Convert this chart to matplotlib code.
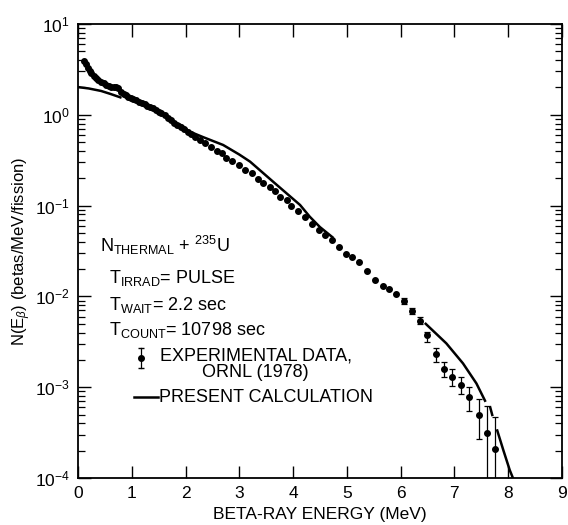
import numpy as np
import matplotlib
matplotlib.use("Agg")
import matplotlib.pyplot as plt
from matplotlib.ticker import LogLocator, FixedLocator

plt.rcParams["font.family"] = ["Liberation Sans", "DejaVu Sans"]
plt.rcParams["mathtext.fontset"] = "custom"
plt.rcParams["mathtext.rm"] = "Liberation Sans"
plt.rcParams["mathtext.it"] = "Liberation Sans:italic"

# experimental data, ORNL (1978)  -- energy (MeV), N (betas/MeV/fission)
exp_e = [0.12, 0.15, 0.19, 0.22, 0.25, 0.29, 0.34, 0.38, 0.43, 0.48,
         0.53, 0.58, 0.62, 0.67, 0.71, 0.75, 0.80, 0.85, 0.89, 0.93,
         0.98, 1.03, 1.08, 1.13, 1.19, 1.24, 1.29, 1.34, 1.39, 1.45,
         1.50, 1.55, 1.61, 1.67, 1.73, 1.79, 1.85, 1.92, 1.98, 2.05,
         2.11, 2.18, 2.26, 2.36, 2.48, 2.58, 2.67, 2.76, 2.86, 3.00,
         3.10, 3.23, 3.35, 3.44, 3.57, 3.66, 3.75, 3.88, 3.97, 4.10,
         4.22, 4.36, 4.49, 4.59, 4.72, 4.86, 4.98, 5.09, 5.23, 5.38,
         5.52, 5.67, 5.79, 5.92]
exp_n = [3.95, 3.6, 3.3, 3.05, 2.85, 2.68, 2.52, 2.42, 2.32, 2.22,
         2.13, 2.08, 2.04, 2.02, 2.00, 1.97, 1.78, 1.70, 1.64, 1.58,
         1.52, 1.48, 1.44, 1.39, 1.35, 1.31, 1.26, 1.22, 1.18, 1.12,
         1.08, 1.04, 0.99, 0.93, 0.88, 0.82, 0.78, 0.74, 0.69, 0.65,
         0.61, 0.57, 0.53, 0.49, 0.445, 0.403, 0.377, 0.332, 0.313, 0.280,
         0.247, 0.227, 0.195, 0.176, 0.161, 0.146, 0.123, 0.115, 0.099, 0.088,
         0.074, 0.062, 0.054, 0.048, 0.042, 0.035, 0.029, 0.027, 0.0237, 0.0191,
         0.0152, 0.0131, 0.0120, 0.0105]

# high-energy points with visible error bars (low / high bounds)
tail_e = [6.07, 6.21, 6.36, 6.50, 6.65, 6.81, 6.96, 7.12, 7.28, 7.45, 7.60, 7.76]
tail_n = [0.0089, 0.0069, 0.0054, 0.00376, 0.00230, 0.00158, 0.00128,
          0.00106, 0.00079, 0.00049, 0.00031, 0.000207]
tail_lo = [0.0083, 0.0064, 0.0050, 0.00317, 0.00190, 0.00129, 0.00104,
           0.00084, 0.00055, 0.00027, 0.00001, 0.00001]
tail_hi = [0.0096, 0.0075, 0.0059, 0.00408, 0.00270, 0.00191, 0.00157,
           0.00129, 0.00101, 0.00074, 0.00062, 0.000466]

# present calculation (gaps where hidden by the data points)
calc_e = [0.0, 0.2, 0.43, 0.6, 0.81, np.nan,
          1.89, 2.08, 2.32, 2.70, 3.00, 3.20, 3.63, 4.13, 4.31, 4.50, 4.75, np.nan,
          6.45, 6.85, 7.16, 7.41, 7.58, np.nan, 7.66, 7.71, np.nan,
          7.79, 7.91, 8.03, 8.12]
calc_n = [2.02, 1.95, 1.83, 1.70, 1.54, np.nan,
          0.79, 0.652, 0.57, 0.465, 0.365, 0.305, 0.183, 0.1016, 0.0755, 0.058, 0.044, np.nan,
          0.0051, 0.00304, 0.00183, 0.00110, 0.00069, np.nan, 0.00062, 0.00048, np.nan,
          0.000344, 0.000203, 0.000122, 0.000090]

x_ticks = [0, 1, 2, 3, 4, 5, 6, 7, 8, 9]

fig = plt.figure(figsize=(5.68, 5.25), dpi=100)
ax = fig.add_axes([0.1373, 0.0895, 0.852, 0.8648])

ax.plot(calc_e, calc_n, color="black", linewidth=1.8, solid_capstyle="butt")
ax.plot(exp_e, exp_n, "o", color="black", markersize=4)

tail_e = np.array(tail_e)
tail_n = np.array(tail_n)
yerr = [tail_n - np.array(tail_lo), np.array(tail_hi) - tail_n]
ax.errorbar(tail_e, tail_n, yerr=yerr, fmt="o", color="black", markersize=4,
            elinewidth=0.9, capsize=2.2, capthick=0.9)

ax.set_yscale("log")
ax.set_xlim(0, 9)
ax.set_ylim(1e-4, 10)
ax.xaxis.set_major_locator(FixedLocator(x_ticks))
ax.yaxis.set_major_locator(LogLocator(base=10, numticks=10))
ax.yaxis.set_minor_locator(LogLocator(base=10, subs=np.arange(2, 10), numticks=10))
ax.tick_params(which="both", direction="in", top=True, right=True, labelsize=12.5)
ax.tick_params(which="major", length=9, width=1.0, pad=6)
ax.tick_params(which="minor", length=5, width=0.9)
for sp in ax.spines.values():
    sp.set_linewidth(1.3)

ax.set_xlabel("BETA-RAY ENERGY (MeV)", fontsize=12.5, labelpad=4)
ax.set_ylabel(r"N(E$_\beta$) (betas/MeV/fission)", fontsize=12, labelpad=1)

# annotation block
tkw = dict(transform=ax.transAxes, fontsize=13, va="baseline", ha="left")
ax.text(0.045, 0.498, r"N$_{\rm THERMAL}$ + $^{235}$U", **tkw)
ax.text(0.064, 0.4295, r"T$_{\rm IRRAD}$= PULSE", **tkw)
ax.text(0.064, 0.370, r"T$_{\rm WAIT}$= 2.2 sec", **tkw)
ax.text(0.064, 0.315, r"T$_{\rm COUNT}$= 10798 sec", **tkw)

# legend drawn by hand
ax.plot([0.130, 0.130], [0.242, 0.286], color="black", linewidth=0.9,
        transform=ax.transAxes)
ax.plot([0.130, 0.130], [0.242, 0.286], "_", color="black", markersize=5,
        transform=ax.transAxes)
ax.plot([0.130], [0.264], "o", color="black", markersize=4, transform=ax.transAxes)
ax.text(0.169, 0.2225, "EXPERIMENTAL DATA,\nORNL (1978)", multialignment="center",
        linespacing=0.95, **tkw)
ax.plot([0.116, 0.165], [0.178, 0.178], color="black", linewidth=1.8,
        transform=ax.transAxes)
ax.text(0.167, 0.167, "PRESENT CALCULATION", **tkw)

fig.savefig("out.png", dpi=100)
